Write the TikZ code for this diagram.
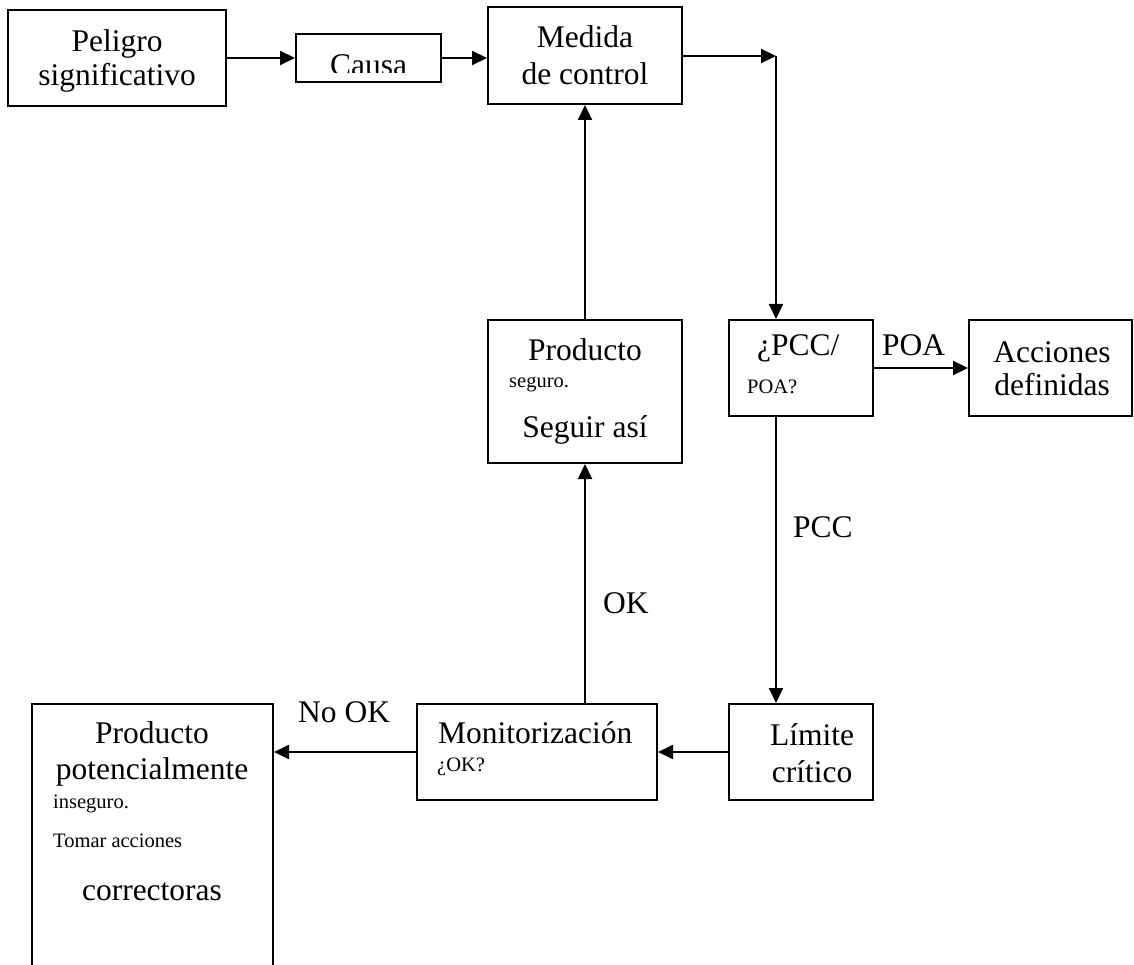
\documentclass[tikz,border=0pt]{standalone}
\usepackage{fontspec}
\setmainfont{Liberation Serif}
\usetikzlibrary{arrows.meta}

\tikzset{
  box/.style={draw, line width=2pt, inner sep=0pt},
  bigtext/.style={inner sep=0pt, anchor=base, font=\fontsize{31.5}{36}\selectfont},
  smalltext/.style={inner sep=0pt, anchor=base west, font=\fontsize{20.5}{24}\selectfont},
  flow/.style={line width=2pt, -{Triangle[length=15pt,width=14pt]}}
}

\begin{document}
\begin{tikzpicture}[x=1pt, y=-1pt]
\clip (0,0) rectangle (1134,965);

% boxes
\node[box, minimum width=218pt, minimum height=96pt] (peligro) at (117,58) {};
\node[box, minimum width=145pt, minimum height=48pt] (causa) at (368.5,58) {};
\node[box, minimum width=194pt, minimum height=97pt] (medida) at (585,55.5) {};
\node[box, minimum width=194pt, minimum height=143pt] (seguro) at (585,391.5) {};
\node[box, minimum width=144pt, minimum height=96pt] (pcc) at (801,368) {};
\node[box, minimum width=163pt, minimum height=96pt] (acciones) at (1050.5,368) {};
\node[box, minimum width=240pt, minimum height=96pt] (monit) at (537,752) {};
\node[box, minimum width=144pt, minimum height=96pt] (limite) at (801,752) {};
\node[box, minimum width=241pt, minimum height=300pt] (inseguro) at (152.5,854) {};

% texts
\node[bigtext] (peligro1) at (117,52) {Peligro};
\node[bigtext] (peligro2) at (117,86) {significativo};
\begin{scope}
  \clip (296,34) rectangle (441,73);
  \node[bigtext] (causa1) at (368.5,76) {Causa};
\end{scope}
\node[bigtext] (medida1) at (585,48) {Medida};
\node[bigtext] (medida2) at (585,85) {de control};
\node[bigtext] (seguro1) at (585,360) {Producto};
\node[smalltext] (seguro2) at (509,387) {seguro.};
\node[bigtext] (seguro3) at (585,437) {Seguir así};
\node[bigtext, anchor=base west] (pcc1) at (757,355) {¿PCC/};
\node[smalltext] (pcc2) at (747,393) {POA?};
\node[bigtext] (acciones1) at (1052,362) {Acciones};
\node[bigtext] (acciones2) at (1052,395) {definidas};
\node[bigtext, anchor=base west] (monit1) at (438,743) {Monitorización};
\node[smalltext] (monit2) at (437,771) {¿OK?};
\node[bigtext] (limite1) at (812,745) {Límite};
\node[bigtext] (limite2) at (812,782) {crítico};
\node[bigtext] (inseguro1) at (152,743) {Producto};
\node[bigtext] (inseguro2) at (152,779) {potencialmente};
\node[smalltext] (inseguro3) at (53,808) {inseguro.};
\node[smalltext] (inseguro4) at (53,847) {Tomar acciones};
\node[bigtext] (inseguro5) at (152,900) {correctoras};

% labels
\node[bigtext, anchor=base west] (poa) at (882,355) {POA};
\node[bigtext, anchor=base west] (pccl) at (793,537) {PCC};
\node[bigtext, anchor=base west] (ok) at (603,613) {OK};
\node[bigtext, anchor=base west] (nook) at (298,722) {No OK};

% connectors
\coordinate (turn) at (776,56);
\draw[flow] (peligro.east) -- (causa.west);
\draw[flow] (causa.east) -- (causa.east -| medida.west);
\draw[flow] (medida.east |- turn) -- (turn);
\draw[flow] (turn) -- (turn |- pcc.north);
\draw[flow] (pcc.east) -- (acciones.west);
\draw[flow] (turn |- pcc.south) -- (turn |- limite.north);
\draw[flow] (limite.west) -- (monit.east);
\draw[flow] (seguro.south |- monit.north) -- (seguro.south);
\draw[flow] (seguro.north) -- (medida.south);
\draw[flow] (monit.west) -- (monit.west -| inseguro.east);
\end{tikzpicture}
\end{document}
